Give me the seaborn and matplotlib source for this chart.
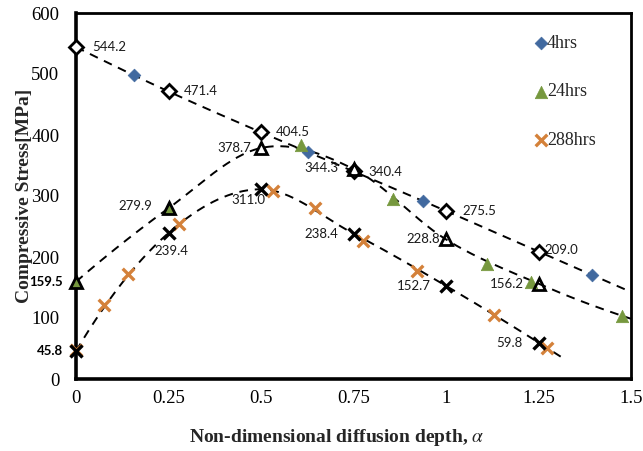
import numpy as np
import pandas as pd
import seaborn as sns
import matplotlib.pyplot as plt

# ---------------- data ----------------
alpha_fit = [0, 0.25, 0.5, 0.75, 1.0, 1.25]
fit_4hrs = [544.2, 471.4, 404.5, 340.4, 275.5, 209.0]
fit_24hrs = [159.5, 279.9, 378.7, 344.3, 228.8, 156.2]
fit_288hrs = [45.8, 239.4, 311.0, 238.4, 152.7, 59.8]

x_4hrs = [0, 0.156, 0.626, 0.939, 1.395]
y_4hrs = [544.2, 497.9, 371.6, 291.8, 170.5]
x_24hrs = [0, 0.25, 0.608, 0.856, 1.110, 1.230, 1.475]
y_24hrs = [159.5, 279.9, 383.6, 295.0, 188.5, 159.5, 103.8]
x_288hrs = [0, 0.076, 0.141, 0.279, 0.532, 0.646, 0.777, 0.922, 1.131, 1.274]
y_288hrs = [47.5, 121.3, 172.0, 253.6, 308.7, 279.8, 226.8, 177.6, 104.9, 50.3]

x_ticks = [0, 0.25, 0.5, 0.75, 1, 1.25, 1.5]
x_tick_labels = ["0", "0.25", "0.5", "0.75", "1", "1.25", "1.5"]
y_ticks = [0, 100, 200, 300, 400, 500, 600]

# trend-line extents
curve_end = {"4hrs": 1.5, "24hrs": 1.5, "288hrs": 1.32}


def smooth_curve(kx, ky, x_end, n=300):
    """Cubic Hermite (Catmull-Rom style) curve through knots, extended
    linearly with the end tangent up to x_end."""
    kx = np.asarray(kx, float)
    ky = np.asarray(ky, float)
    m = np.zeros_like(ky)
    m[1:-1] = (ky[2:] - ky[:-2]) / (kx[2:] - kx[:-2])
    m[0] = 2 * (ky[1] - ky[0]) / (kx[1] - kx[0]) - m[1]
    m[-1] = 2 * (ky[-1] - ky[-2]) / (kx[-1] - kx[-2]) - m[-2]
    xx = np.linspace(0, x_end, n)
    yy = np.empty_like(xx)
    for i, x in enumerate(xx):
        if x >= kx[-1]:
            yy[i] = ky[-1] + m[-1] * (x - kx[-1])
            continue
        j = min(np.searchsorted(kx, x, side="right") - 1, len(kx) - 2)
        h = kx[j + 1] - kx[j]
        t = (x - kx[j]) / h
        h00 = 2 * t**3 - 3 * t**2 + 1
        h10 = t**3 - 2 * t**2 + t
        h01 = -2 * t**3 + 3 * t**2
        h11 = t**3 - t**2
        yy[i] = (h00 * ky[j] + h10 * h * m[j] + h01 * ky[j + 1]
                 + h11 * h * m[j + 1])
    return xx, yy


# ---------------- style ----------------
sns.set_theme(style="white")
plt.rcParams["font.family"] = ["Liberation Serif", "DejaVu Serif"]
plt.rcParams["mathtext.fontset"] = "stix"

C_BLUE = "#41699F"
C_GREEN = "#76983E"
C_ORANGE = "#D4813A"

fig = plt.figure(figsize=(6.43, 4.51), dpi=100)
ax = fig.add_axes([76 / 643, 1 - 379 / 451, 555 / 643, 366 / 451])

# ---------------- trend curves ----------------
series = {
    "4hrs": (fit_4hrs, x_4hrs, y_4hrs),
    "24hrs": (fit_24hrs, x_24hrs, y_24hrs),
    "288hrs": (fit_288hrs, x_288hrs, y_288hrs),
}
for key, (fvals, mx, my) in series.items():
    kx = list(alpha_fit)
    ky = list(fvals)
    if mx[-1] - kx[-1] > 0.1:  # use the last measured point as end knot
        kx.append(mx[-1])
        ky.append(my[-1])
    xx, yy = smooth_curve(kx, ky, curve_end[key])
    sns.lineplot(x=xx, y=yy, ax=ax, color="black", linewidth=1.4,
                 linestyle=(0, (4.5, 3.5)), legend=False, sort=False)
n_curves = len(ax.lines)

# ---------------- coloured measured points ----------------
sns.scatterplot(x=x_4hrs, y=y_4hrs, ax=ax, marker="D", s=42, color=C_BLUE,
                edgecolor=C_BLUE, linewidth=0.5, label="4hrs", zorder=3)
sns.scatterplot(x=x_24hrs, y=y_24hrs, ax=ax, marker="^", s=80, color=C_GREEN,
                edgecolor=C_GREEN, linewidth=0.5, label="24hrs", zorder=3)
sns.scatterplot(x=x_288hrs, y=y_288hrs, ax=ax, marker="x", s=70, color=C_ORANGE,
                linewidth=2.4, label="288hrs", zorder=3)

# ---------------- black fitted markers ----------------
sns.lineplot(x=alpha_fit, y=fit_4hrs, ax=ax, marker="D", markersize=7.5,
             markerfacecolor="white", markeredgecolor="black", markeredgewidth=2.0,
             linestyle="none", legend=False, zorder=4)
sns.lineplot(x=alpha_fit, y=fit_24hrs, ax=ax, marker="^", markersize=8.5,
             markerfacecolor="none", markeredgecolor="black", markeredgewidth=2.0,
             linestyle="none", legend=False, zorder=5)
sns.lineplot(x=alpha_fit, y=fit_288hrs, ax=ax, marker="x", markersize=8,
             markeredgecolor="black", markeredgewidth=2.4,
             linestyle="none", legend=False, zorder=5)

# markers on the axis edge are drawn whole
for ln in ax.lines[n_curves:]:
    ln.set_clip_on(False)
for coll in ax.collections:
    coll.set_clip_on(False)

# ---------------- value labels ----------------
PX = 0.72  # points per pixel
lab_font = dict(family=["Lato", "DejaVu Sans"], fontsize=9.5, color="#1a1a1a")
label_pos_4 = [("left", 16, 0), ("left", 15, 0), ("left", 15, 0),
               ("left", 15, -1), ("left", 16, 0), ("left", 6, 2)]
label_pos_24 = [None, ("right", -16, 2), ("right", -10, 0),
                ("right", -15, 1), ("right", -6, 0), ("right", -15, 0)]
label_pos_288 = [None, ("center", 3, -18), ("center", -13, -11),
                 ("right", -15, 0), ("right", -15, 0), ("right", -16, 0)]

for vals, poses in [(fit_4hrs, label_pos_4), (fit_24hrs, label_pos_24),
                    (fit_288hrs, label_pos_288)]:
    for xv, yv, pos in zip(alpha_fit, vals, poses):
        if pos is None:
            continue
        ha, dx, dy = pos
        ax.annotate(f"{yv:.1f}", (xv, yv), xytext=(dx * PX, dy * PX),
                    textcoords="offset points", ha=ha, va="center",
                    **lab_font)

# values at alpha = 0 written beside the axis
for yv in [fit_24hrs[0], fit_288hrs[0]]:
    ax.annotate(f"{yv:.1f}", (0, yv), xytext=(-13 * PX, 0),
                textcoords="offset points", ha="right", va="center",
                family=["Lato", "DejaVu Sans"], fontsize=9.5,
                fontweight="bold", color="black", annotation_clip=False)

# ---------------- axes ----------------
ax.set_xlim(0, 1.5)
ax.set_ylim(0, 600)
ax.set_xticks(x_ticks)
ax.set_xticklabels(x_tick_labels)
ax.set_yticks(y_ticks)
ax.tick_params(axis="both", direction="in", length=4, width=1.2,
               labelsize=13.5, colors="black", pad=8)
ax.tick_params(axis="y", pad=12)
for s in ax.spines.values():
    s.set_visible(True)
    s.set_color("black")
    s.set_linewidth(2.0)
ax.spines["left"].set_linewidth(2.6)
ax.spines["bottom"].set_linewidth(2.6)

ax.set_xlabel(r"Non-dimensional diffusion depth, $\mathit{\alpha}$",
              fontsize=14, fontweight="bold")
ax.set_ylabel("Compressive Stress[MPa]", fontsize=14, fontweight="bold")
ax.xaxis.set_label_coords(0.47, -0.13)
ax.yaxis.set_label_coords(-0.078, 0.5)

leg = ax.legend(loc="upper left", bbox_to_anchor=(0.79, 0.975), frameon=False,
                fontsize=13, labelspacing=1.75, handletextpad=-0.4,
                handlelength=1.5, borderpad=0.2)

fig.savefig("out.png", dpi=100)
